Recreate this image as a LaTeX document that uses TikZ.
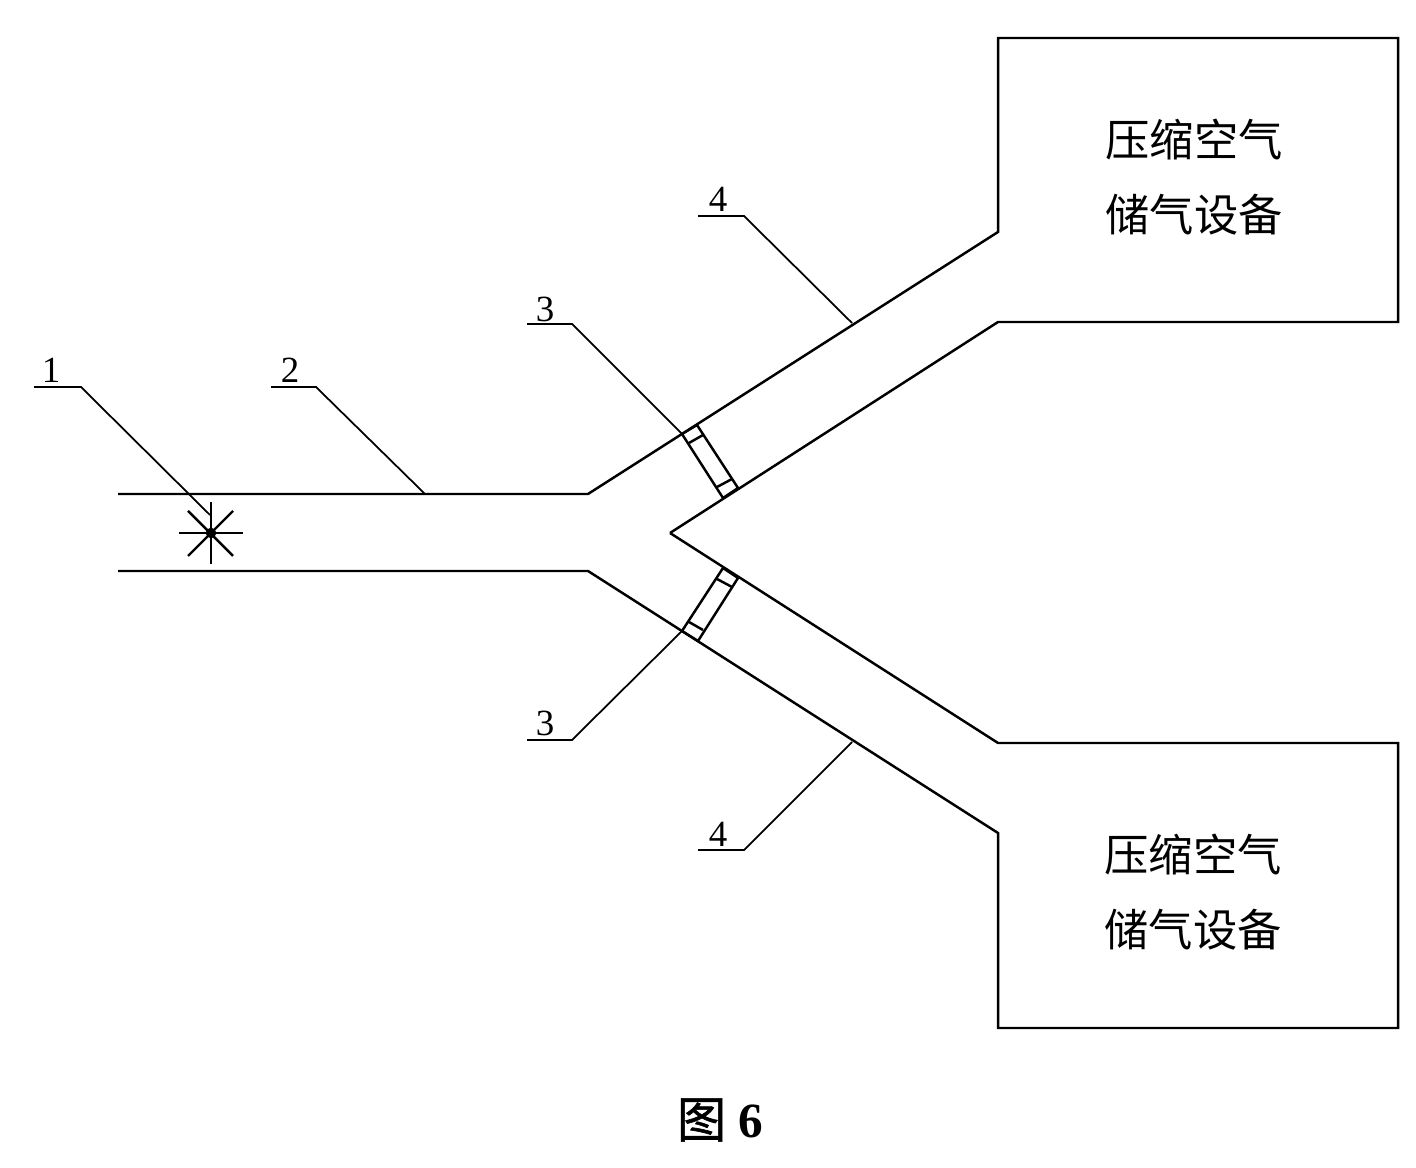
\documentclass[tikz,border=0pt]{standalone}
\usepackage{fontspec}
\setmainfont{Liberation Serif}
\newfontfamily\cjk{Noto Sans CJK SC}
\newfontfamily\cjkfig[FakeBold=1.2]{Noto Sans CJK SC}
\tikzset{
    leader/.style={line width=0.5pt},
    tag/.style={inner sep=0pt,font=\fontsize{10.5}{12}\selectfont},
    tank/.style={inner sep=0pt,align=center,font=\cjk\fontsize{12.6}{21.5}\selectfont}
}
\begin{document}
\begin{tikzpicture}[x=0.01cm,y=-0.01cm,line width=0.7pt,line join=miter]
                \useasboundingbox (0,0) rectangle (1416,1168);
                \coordinate (pipeTop) at (118,494);
                \coordinate (pipeBot) at (118,571);
                \coordinate (forkTop) at (588,494);
                \coordinate (forkBot) at (588,571);
                \coordinate (tip) at (670,533);
                \coordinate (star) at (211,533);
                % upper branch and tank
                \draw (pipeTop)--(forkTop)--(998,232)--(998,38)--(1398,38)--(1398,322)--(998,322)--(tip);
                % lower branch and tank
                \draw (pipeBot)--(forkBot)--(998,833)--(998,1028)--(1398,1028)--(1398,743)--(998,743)--(tip);
                % valves
                \draw (682,434)--(697,425)--(738,488)--(723,498)--cycle;
                \draw (689,443)--(703,435);
                \draw (717,487)--(732,479);
                \draw (723,568)--(738,578)--(698,641)--(682,631)--cycle;
                \draw (717,579)--(732,587);
                \draw (689,622)--(703,630);
                % star
                \draw (211,502)--(211,564);
                \draw[leader] (179,533)--(243,533);
                \draw (188,511)--(233,556);
                \draw (188,556)--(233,511);
                \fill (star) circle [radius=1.5pt];
                % leaders
                \node[tag] (numA) at (51,370) {1};
                \node[tag] (numB) at (290,370) {2};
                \node[tag] (numC) at (545,309) {3};
                \node[tag] (numD) at (545,723) {3};
                \node[tag] (numE) at (718,199) {4};
                \node[tag] (numF) at (718,834) {4};
                \draw[leader] (34,387)--(81,387)--(210,515);
                \draw[leader] (271,387)--(316,387)--(425,494);
                \draw[leader] (527,324)--(572,324)--(682,434);
                \draw[leader] (527,740)--(572,740)--(682,631);
                \draw[leader] (698,216)--(744,216)--(852,323);
                \draw[leader] (698,850)--(744,850)--(852,742);
                % texts
                \node[tank] (tankA) at (1194,177) {压缩空气\\储气设备};
                \node[tank] (tankB) at (1193,892) {压缩空气\\储气设备};
                \node[inner sep=0pt,font=\fontsize{14}{16}\selectfont] (fig) at (720,1120) {{\cjkfig 图} \textbf{6}};
            \end{tikzpicture}
\end{document}
